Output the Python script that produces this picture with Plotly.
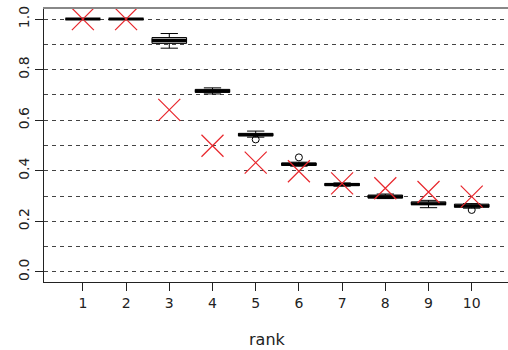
import plotly.graph_objects as go

ranks = [1, 2, 3, 4, 5, 6, 7, 8, 9, 10]
q1 = [1.0, 1.0, 0.904, 0.710, 0.538, 0.421, 0.341, 0.292, 0.266, 0.256]
median = [1.0, 1.0, 0.915, 0.716, 0.543, 0.426, 0.346, 0.297, 0.270, 0.261]
q3 = [1.0, 1.0, 0.927, 0.722, 0.548, 0.431, 0.350, 0.304, 0.277, 0.268]
lower = [1.0, 1.0, 0.885, 0.704, 0.533, 0.418, 0.339, 0.290, 0.254, 0.252]
upper = [1.0, 1.0, 0.943, 0.728, 0.557, 0.434, 0.352, 0.308, 0.283, 0.270]
outlier_x = [5, 6, 10]
outlier_y = [0.524, 0.453, 0.245]
cross_y = [1.0, 1.0, 0.641, 0.499, 0.432, 0.398, 0.350, 0.331, 0.316, 0.298]

font = "DejaVu Sans"
fig = go.Figure()
fig.add_trace(go.Box(
    x=ranks, q1=q1, median=median, q3=q3, lowerfence=lower, upperfence=upper,
    width=0.8, whiskerwidth=0.5, fillcolor="#a8a8a8",
    line=dict(color="black", width=1), boxpoints=False, showlegend=False,
))
fig.add_trace(go.Scatter(
    x=ranks, y=median, mode="markers", showlegend=False,
    marker=dict(symbol="line-ew-open", size=25, color="black",
                line=dict(color="black", width=3)),
))
fig.add_trace(go.Scatter(
    x=outlier_x, y=outlier_y, mode="markers", showlegend=False,
    marker=dict(symbol="circle-open", size=7, color="black",
                line=dict(color="black", width=1)),
))
fig.add_trace(go.Scatter(
    x=ranks, y=cross_y, mode="markers", showlegend=False,
    marker=dict(symbol="x-thin-open", size=22, color="#e8262c",
                line=dict(color="#e8262c", width=1.2)),
))

fig.update_layout(
    width=508, height=350,
    margin=dict(l=44, r=0, t=9, b=68),
    plot_bgcolor="white", paper_bgcolor="white",
    font=dict(family=font, size=14, color="#222"),
    xaxis=dict(
        range=[0.1, 10.84], tickmode="array", tickvals=ranks,
        ticktext=[str(r) for r in ranks], automargin=False,
        showgrid=False, zeroline=False, showline=True, linecolor="#222", linewidth=1,
        ticks="outside", ticklen=8, tickcolor="#222",
        tickfont=dict(size=14),
    ),
    xaxis2=dict(
        range=[0.1, 10.84], overlaying="x", side="top", showline=True,
        linecolor="#888", linewidth=2, showticklabels=False, showgrid=False,
        zeroline=False, ticks="", automargin=False,
    ),
    yaxis=dict(
        range=[-0.04, 1.04], tickmode="linear", tick0=0, dtick=0.2, tickformat=".1f",
        tickangle=-90, showgrid=True, gridcolor="#444", griddash="4px,4px", gridwidth=1,
        minor=dict(dtick=0.1, tick0=0, showgrid=True, gridcolor="#444", griddash="4px,4px", gridwidth=1),
        zeroline=False, showline=True, linecolor="#222", linewidth=1, automargin=False,
        ticks="outside", ticklen=8, tickcolor="#222", tickfont=dict(size=14),
    ),
    annotations=[dict(text="rank", x=0.482, y=-0.212, xref="paper", yref="paper",
                      showarrow=False, xanchor="center", yanchor="middle",
                      font=dict(size=16, family=font, color="#222"))],
)
fig.add_trace(go.Scatter(x=[], y=[], xaxis="x2", showlegend=False))
fig.write_html("out.html", config={"displayModeBar": False},
               post_script="document.body.style.margin='0px';")
